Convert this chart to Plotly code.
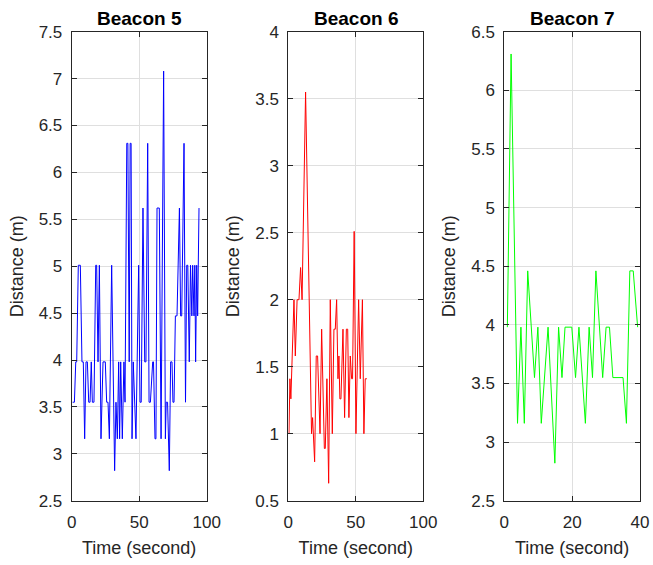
import plotly.graph_objects as go

# ---------------- data ----------------
b5_time = [0.7, 2.0, 3.0, 3.7, 4.9, 6.4, 7.6, 8.6, 9.6, 10.6, 11.6, 12.6, 13.6, 14.5, 15.3, 16.5,
           17.8, 18.5, 19.5, 20.5, 21.7, 23.2, 24.9, 25.9, 26.9, 27.9, 29.6, 31.8, 32.8, 33.8,
           34.8, 35.5, 36.3, 37.0, 37.5, 38.7, 39.5, 40.8, 41.6, 42.6, 43.3, 44.0, 44.7, 45.6,
           46.6, 47.6, 49.6, 50.6, 51.5, 52.8, 54.1, 55.0, 56.3, 57.3, 58.3, 60.0, 60.6, 61.7,
           62.4, 63.2, 64.9, 66.2, 68.1, 69.4, 70.0, 71.0, 72.3, 73.3, 74.3, 75.0, 75.8, 76.8,
           78.0, 79.8, 80.7, 81.5, 83.2, 84.3, 85.2, 86.0, 87.1, 88.0, 89.0, 89.6, 90.6, 91.2,
           91.8, 92.6, 93.3, 94.3]
b5_dist = [3.55, 3.55, 3.98, 3.98, 5.01, 5.01, 3.98, 3.98, 3.16, 3.98, 3.98, 3.55, 3.55, 3.98, 3.55, 3.55,
           5.01, 5.01, 3.98, 5.01, 3.16, 3.98, 3.98, 3.55, 3.55, 3.16, 5.01, 2.82, 3.55, 3.16,
           3.98, 3.16, 3.98, 3.55, 3.16, 3.98, 3.55, 6.31, 6.31, 3.98, 6.31, 6.31, 3.16, 3.98,
           3.55, 3.16, 5.01, 3.55, 3.55, 5.62, 3.98, 3.98, 6.31, 3.55, 3.55, 3.98, 3.98, 3.16,
           3.16, 5.62, 5.62, 3.16, 7.08, 3.16, 3.55, 3.55, 2.82, 3.98, 3.98, 3.55, 3.55, 4.47,
           4.47, 5.62, 4.47, 4.47, 6.31, 3.55, 5.01, 5.01, 3.98, 5.01, 4.47, 5.01, 4.47, 5.01,
           3.98, 5.01, 4.47, 5.62]

b6_time = [0.5, 1.2, 1.9, 3.3, 4.2, 5.2, 6.5, 7.9, 9.1, 10.2, 12.8, 17.2, 18.0, 19.5, 20.7, 21.7,
           23.5, 24.7, 26.7, 27.4, 28.6, 29.9, 31.1, 32.6, 33.8, 34.8, 35.8, 36.8, 37.5, 38.2,
           39.0, 40.5, 41.7, 43.0, 44.0, 44.9, 45.9, 46.9, 47.6, 48.8, 50.1, 52.1, 53.3, 54.9,
           56.0, 57.0, 58.2]
b6_dist = [1.0, 1.41, 1.26, 1.78, 2.0, 1.58, 2.0, 2.0, 2.24, 2.0, 3.55, 1.0, 1.12, 0.79, 1.58, 1.58,
           1.0, 1.78, 0.89, 0.89, 1.41, 0.63, 2.0, 1.0, 1.78, 1.78, 2.0, 1.41, 1.58, 1.26,
           1.26, 1.78, 1.12, 1.78, 1.78, 1.12, 1.58, 1.41, 1.41, 2.51, 1.0, 2.0, 1.41, 2.0,
           1.0, 1.41, 1.41]

b7_time = [0.9, 2.0, 3.9, 4.9, 5.9, 6.9, 8.9, 9.9, 10.9, 12.9, 14.9, 16.0, 17.0, 17.9, 19.9, 21.0,
           22.0, 23.9, 25.0, 26.0, 27.0, 29.0, 30.0, 31.0, 32.0, 35.0, 36.0, 37.0, 38.0, 39.3]
b7_dist = [3.98, 6.31, 3.16, 3.98, 3.16, 4.46, 3.55, 3.98, 3.16, 3.98, 2.82, 3.98, 3.55, 3.98, 3.98, 3.55,
           3.98, 3.16, 3.98, 3.55, 4.46, 3.55, 3.98, 3.98, 3.55, 3.55, 3.16, 4.46, 4.46, 3.98]

titles = ["Beacon 5", "Beacon 6", "Beacon 7"]
colors = ["#0000ff", "#ff0000", "#00ff00"]
x_ranges = [[0, 100], [0, 100], [0, 40]]
x_dticks = [50, 50, 20]
y_ranges = [[2.5, 7.5], [0.5, 4.0], [2.5, 6.5]]
x_label = "Time (second)"
y_label = "Distance (m)"

# ---------------- layout geometry ----------------
W, H = 653, 565
x_doms = [[71.7 / W, 206.7 / W], [288.3 / W, 423.3 / W], [504.3 / W, 640.0 / W]]
y_dom = [1 - 500.7 / H, 1 - 31.7 / H]

series = [(b5_time, b5_dist), (b6_time, b6_dist), (b7_time, b7_dist)]

fig = go.Figure()
ink = "#262626"
FONT = "Liberation Sans, Arial, sans-serif"

for i, (t, d) in enumerate(series):
    sfx = "" if i == 0 else str(i + 1)
    fig.add_trace(go.Scatter(x=t, y=d, mode="lines",
                             line=dict(color=colors[i], width=1),
                             xaxis="x" + sfx, yaxis="y" + sfx, showlegend=False))
    axcommon = dict(showline=True, linecolor=ink, linewidth=1, mirror="ticks",
                    ticks="inside", ticklen=5, tickcolor=ink,
                    showgrid=True, gridcolor="#dfdfdf", gridwidth=1,
                    zeroline=False, tickfont=dict(family=FONT, size=17, color=ink),
                    automargin=False)
    fig.layout["xaxis" + sfx] = dict(domain=x_doms[i], range=x_ranges[i], dtick=x_dticks[i],
                                     tick0=0, anchor="y" + sfx, ticklabelstandoff=6,
                                     title=dict(text=x_label, standoff=10,
                                                font=dict(family=FONT, size=18, color=ink)),
                                     **axcommon)
    fig.layout["yaxis" + sfx] = dict(domain=y_dom, range=y_ranges[i], dtick=0.5,
                                     anchor="x" + sfx, ticklabelstandoff=5,
                                     title=dict(text=y_label, standoff=10,
                                                font=dict(family=FONT, size=18, color=ink)),
                                     **axcommon)
    fig.add_annotation(text="<b>" + titles[i] + "</b>", xref="paper", yref="paper",
                       x=(x_doms[i][0] + x_doms[i][1]) / 2, y=y_dom[1],
                       xanchor="center", yanchor="bottom", yshift=1, showarrow=False,
                       font=dict(family=FONT, size=19, color="#000000"))

fig.update_layout(width=W, height=H, margin=dict(l=0, r=0, t=0, b=0),
                  paper_bgcolor="white", plot_bgcolor="white")

fig.write_html("out.html")
